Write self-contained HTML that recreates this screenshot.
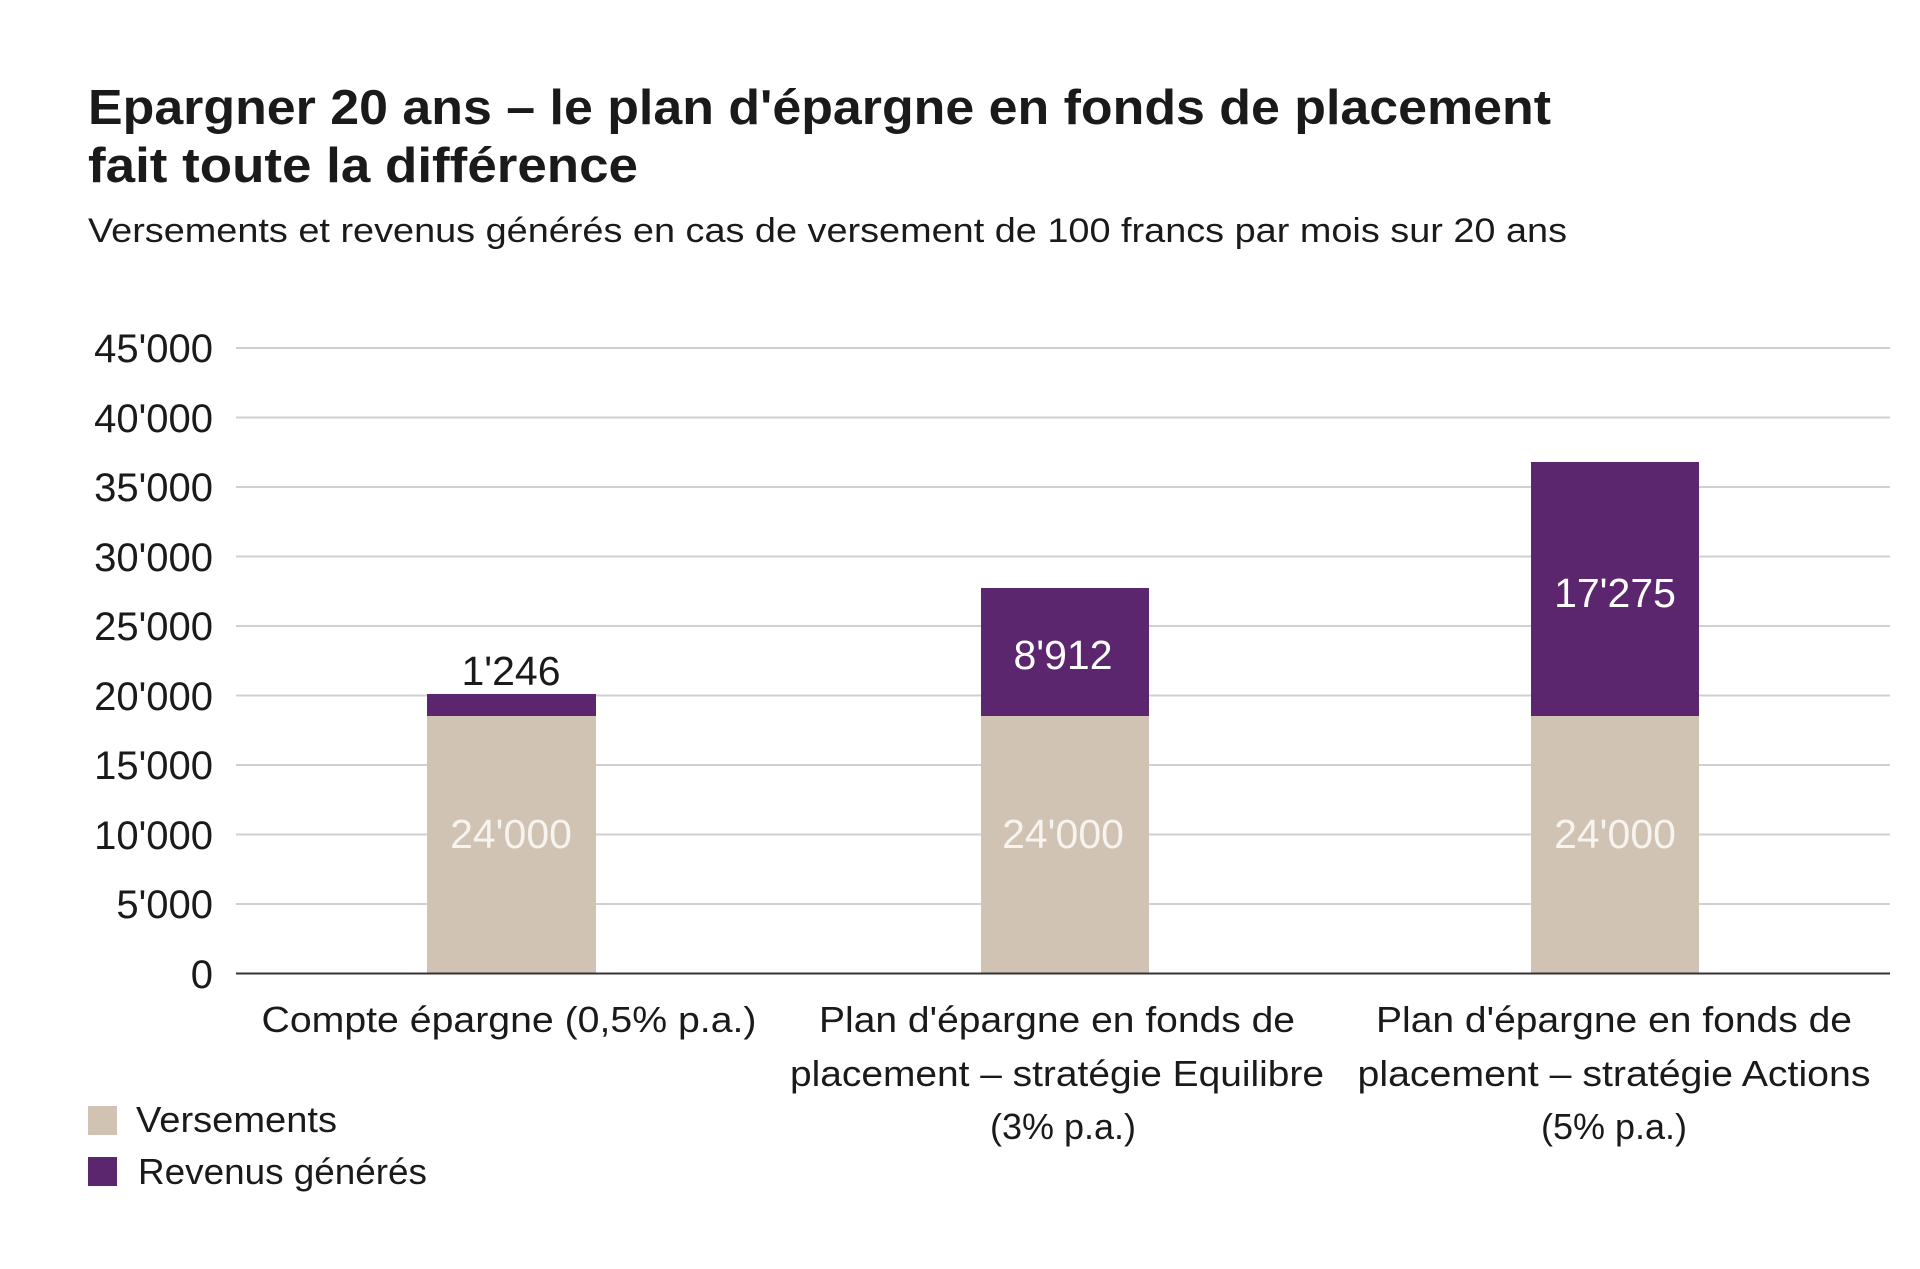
<!DOCTYPE html>
<html><head><meta charset="utf-8"><style>
html,body{margin:0;padding:0;background:#fff;}
svg{display:block;font-family:"Liberation Sans",sans-serif;}
</style></head><body>
<svg width="1920" height="1269" viewBox="0 0 1920 1269" xmlns="http://www.w3.org/2000/svg">
<rect width="1920" height="1269" fill="#fff"/>
<text x="88" y="124" font-size="49" font-weight="bold" fill="#1a1a1a" textLength="1463" lengthAdjust="spacingAndGlyphs">Epargner 20 ans – le plan d'épargne en fonds de placement</text>
<text x="88" y="182" font-size="49" font-weight="bold" fill="#1a1a1a" textLength="550" lengthAdjust="spacingAndGlyphs">fait toute la différence</text>
<text x="88" y="242" font-size="34" fill="#1a1a1a" textLength="1479" lengthAdjust="spacingAndGlyphs">Versements et revenus générés en cas de versement de 100 francs par mois sur 20 ans</text>
<g stroke="#d0d0d0" stroke-width="2">
<line x1="236" x2="1890" y1="348" y2="348"/>
<line x1="236" x2="1890" y1="417.5" y2="417.5"/>
<line x1="236" x2="1890" y1="487" y2="487"/>
<line x1="236" x2="1890" y1="556.5" y2="556.5"/>
<line x1="236" x2="1890" y1="626" y2="626"/>
<line x1="236" x2="1890" y1="695.5" y2="695.5"/>
<line x1="236" x2="1890" y1="765" y2="765"/>
<line x1="236" x2="1890" y1="834.5" y2="834.5"/>
<line x1="236" x2="1890" y1="904" y2="904"/>
</g>
<g font-size="40" fill="#1a1a1a" text-anchor="end">
<text x="213" y="362">45'000</text>
<text x="213" y="432">40'000</text>
<text x="213" y="501">35'000</text>
<text x="213" y="571">30'000</text>
<text x="213" y="640">25'000</text>
<text x="213" y="710">20'000</text>
<text x="213" y="779">15'000</text>
<text x="213" y="849">10'000</text>
<text x="213" y="918">5'000</text>
<text x="213" y="988">0</text>
</g>
<g fill="#d0c3b4">
<rect x="427" y="716" width="169" height="257"/>
<rect x="981" y="716" width="168" height="257"/>
<rect x="1531" y="716" width="168" height="257"/>
</g>
<g fill="#5c266e">
<rect x="427" y="694" width="169" height="22"/>
<rect x="981" y="588" width="168" height="128"/>
<rect x="1531" y="462" width="168" height="254"/>
</g>
<line x1="236" x2="1890" y1="973.5" y2="973.5" stroke="#333" stroke-width="2"/>
<g font-size="41" text-anchor="middle">
<text x="511" y="848" fill="#f7f3ee">24'000</text>
<text x="1063" y="848" fill="#f7f3ee">24'000</text>
<text x="1615" y="848" fill="#f7f3ee">24'000</text>
<text x="511" y="685" fill="#1a1a1a">1'246</text>
<text x="1063" y="669" fill="#fff">8'912</text>
<text x="1615" y="607" fill="#fff">17'275</text>
</g>
<g font-size="36" fill="#1a1a1a" text-anchor="middle">
<text x="509" y="1032" textLength="495" lengthAdjust="spacingAndGlyphs">Compte épargne (0,5% p.a.)</text>
<text x="1057" y="1032" textLength="476" lengthAdjust="spacingAndGlyphs">Plan d'épargne en fonds de</text>
<text x="1057" y="1086" textLength="534" lengthAdjust="spacingAndGlyphs">placement – stratégie Equilibre</text>
<text x="1063" y="1139">(3% p.a.)</text>
<text x="1614" y="1032" textLength="476" lengthAdjust="spacingAndGlyphs">Plan d'épargne en fonds de</text>
<text x="1614" y="1086" textLength="513" lengthAdjust="spacingAndGlyphs">placement – stratégie Actions</text>
<text x="1614" y="1139">(5% p.a.)</text>
</g>
<rect x="88" y="1106" width="29" height="29" fill="#d0c3b4"/>
<rect x="88" y="1157" width="29" height="29" fill="#5c266e"/>
<g font-size="36" fill="#1a1a1a">
<text x="136" y="1132" textLength="201" lengthAdjust="spacingAndGlyphs">Versements</text>
<text x="138" y="1184" textLength="289" lengthAdjust="spacingAndGlyphs">Revenus générés</text>
</g>
</svg>
</body></html>
